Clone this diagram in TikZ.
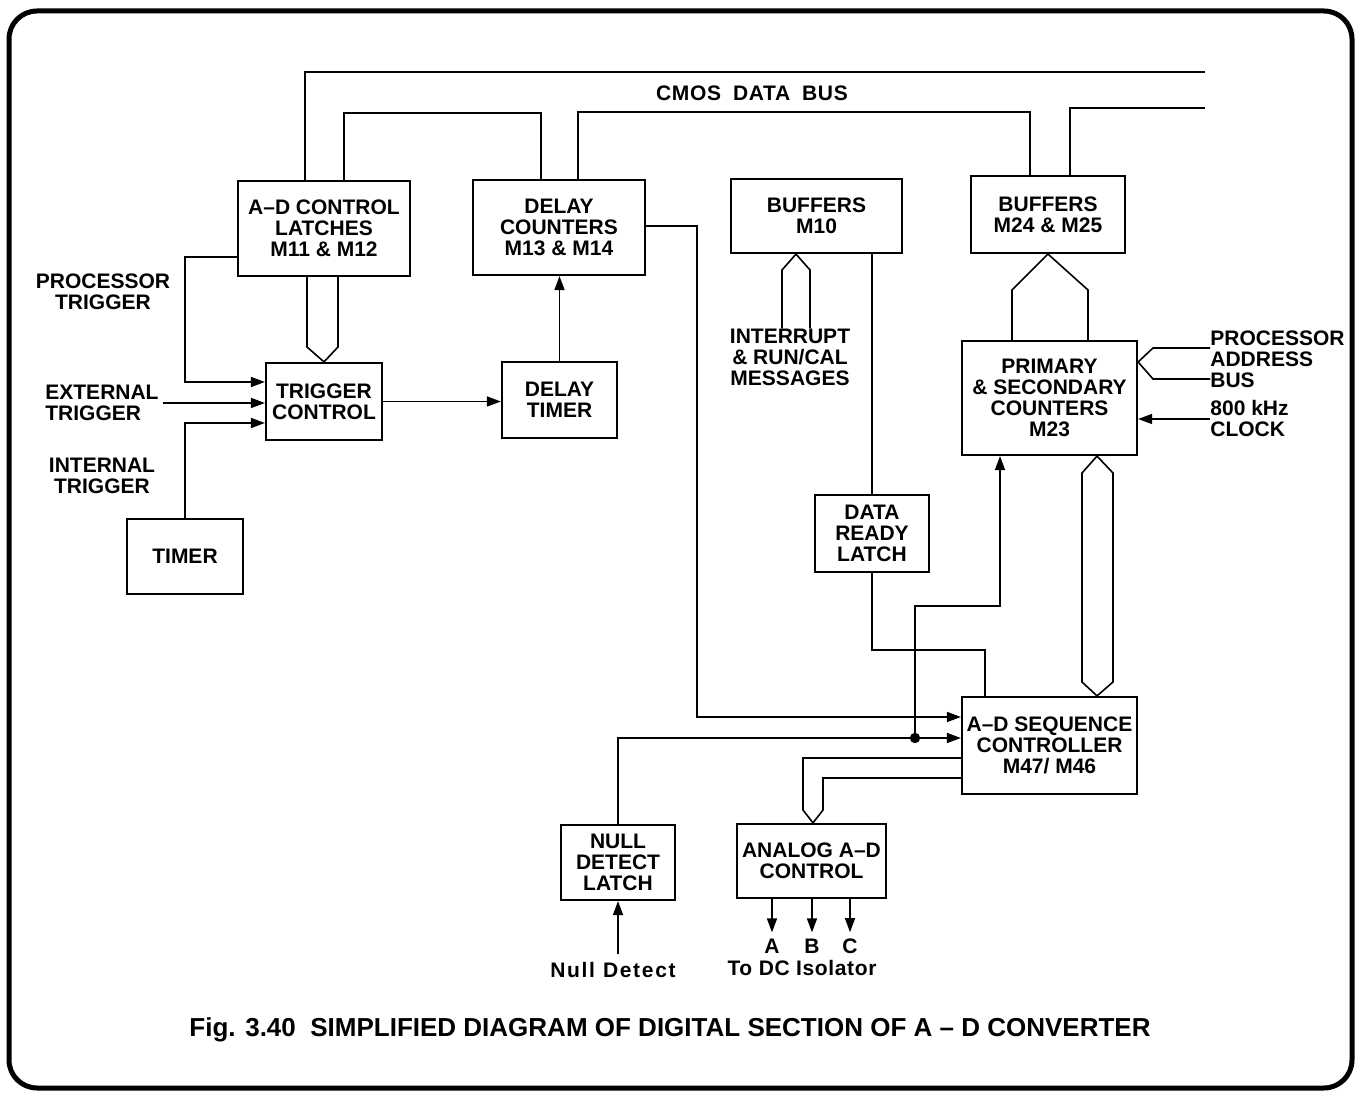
\documentclass[tikz,border=0pt]{standalone}
\usepackage{fontspec}
\setmainfont{Liberation Sans}
\usetikzlibrary{arrows.meta}

\begin{document}
\begin{tikzpicture}[
    x=0.5pt,
    y=-0.5pt,
    font=\fontsize{10.5}{10.5}\selectfont\bfseries,
    blk/.style={draw, line width=1.1pt, align=center, inner sep=0pt},
    lbl/.style={align=center, inner sep=0pt},
    wire/.style={line width=0.8pt},
    >={Triangle[length=7pt,width=5pt]}
]
\useasboundingbox (0,0) rectangle (1361,1095);
\draw[line width=2.5pt, rounded corners=14pt] (9,11) rectangle (1352,1088);

% blocks
\node[blk, minimum width=86pt, minimum height=47.5pt] (latch) at (324,228.5) {A--D CONTROL\\LATCHES\\M11 \& M12};
\node[blk, minimum width=86pt, minimum height=47.5pt] (dcnt) at (559,227.5) {DELAY\\COUNTERS\\M13 \& M14};
\node[blk, minimum width=58pt, minimum height=38.5pt] (trig) at (324,401.5) {TRIGGER\\CONTROL};
\node[blk, minimum width=57.5pt, minimum height=38pt] (dtim) at (559.5,400) {DELAY\\TIMER};
\node[blk, minimum width=58pt, minimum height=37.5pt] (timer) at (185,556.5) {TIMER};
\node[blk, minimum width=85.5pt, minimum height=37pt] (buf10) at (816.5,216) {BUFFERS\\M10};
\node[blk, minimum width=77pt, minimum height=38.5pt] (buf24) at (1048,214.5) {BUFFERS\\M24 \& M25};
\node[blk, minimum width=87.5pt, minimum height=57pt] (cnt) at (1049.5,398) {PRIMARY\\\& SECONDARY\\COUNTERS\\M23};
\node[blk, minimum width=57pt, minimum height=38.5pt] (drl) at (872,533.5) {DATA\\READY\\LATCH};
\node[blk, minimum width=87.5pt, minimum height=48.5pt] (seq) at (1049.5,745.5) {A--D SEQUENCE\\CONTROLLER\\M47/ M46};
\node[blk, minimum width=57pt, minimum height=37.5pt] (nul) at (618,862.5) {NULL\\DETECT\\LATCH};
\node[blk, minimum width=74.5pt, minimum height=37pt] (ana) at (811.5,861) {ANALOG A--D\\CONTROL};

% labels
\node[lbl] (ptrg) at (103,292) {PROCESSOR\\TRIGGER};
\node[lbl, align=left, anchor=west] (ext) at (45,403) {EXTERNAL\\TRIGGER};
\node[lbl] (itrg) at (102,476) {INTERNAL\\TRIGGER};
\node[lbl] (irq) at (790,357) {INTERRUPT\\\& RUN/CAL\\MESSAGES};
\node[lbl, align=left, anchor=west] (pab) at (1210,359) {PROCESSOR\\ADDRESS\\BUS};
\node[lbl, align=left, anchor=west] (clk) at (1210,419) {800 kHz\\CLOCK};
\node[lbl] (cmos) at (752,93) {\addfontfeature{LetterSpace=3}CMOS\hspace{6pt}DATA\hspace{6pt}BUS};
\node[lbl] (la) at (772,946) {A};
\node[lbl] (lb) at (812,946) {B};
\node[lbl] (lc) at (850,946) {C};
\node[lbl] (iso) at (802,968) {\addfontfeature{LetterSpace=3}To DC Isolator};
\node[lbl] (nd) at (613,970) {\addfontfeature{LetterSpace=8}Null\hspace{4pt}Detect};
\node[lbl, font=\fontsize{13}{15}\selectfont\bfseries] (cap) at (670,1030) {Fig. 3.40\ \ SIMPLIFIED DIAGRAM OF DIGITAL SECTION OF A -- D CONVERTER};

% data bus
\coordinate (busA) at (1205,72);
\coordinate (busB) at (1205,108);
\draw[wire] (305,0 |- latch.north) -- (305,72) -- (busA);
\draw[wire] (344,0 |- latch.north) -- (344,113) -- (541,113) -- (541,0 |- dcnt.north);
\draw[wire] (578,0 |- dcnt.north) -- (578,112) -- (1030,112) -- (1030,0 |- buf24.north);
\draw[wire] (1070,0 |- buf24.north) -- (1070,108) -- (busB);

% triggers
\draw[wire, ->] (latch.west |- 0,257) -- (185,257) -- (185,382) -- (trig.west |- 0,382);
\draw[wire, ->] ([xshift=2pt]ext.east) -- (ext.east -| trig.west);
\draw[wire, ->] (timer.north) -- (185,423) -- (trig.west |- 0,423);
\draw[wire] (307,0 |- latch.south) -- (307,347) -- (trig.north) -- (338,347) -- (338,0 |- latch.south);
\draw[wire, ->] (trig.east) -- (trig.east -| dtim.west);
\draw[wire, ->] (dtim.north) -- (dtim.north |- dcnt.south);
\draw[wire, ->] (dcnt.east |- 0,226) -- (697,226) -- (697,717) -- (seq.west |- 0,717);

% buffers and counters
\draw[wire] (782,0 |- irq.north) -- (782,270) -- (796,0 |- buf10.south) -- (810,270) -- (810,0 |- irq.north);
\draw[wire] (drl.north |- buf10.south) -- (drl.north);
\draw[wire] (1012,0 |- cnt.north) -- (1012,290) -- (buf24.south) -- (1088,290) -- (1088,0 |- cnt.north);
\draw[wire] (pab.west |- 0,348) -- (1153,348) -- (cnt.east |- 0,362) -- (1153,379) -- (pab.west |- 0,379);
\draw[wire, ->] (clk.west) -- (clk.west -| cnt.east);
\draw[wire] (1097,0 |- cnt.south) -- (1082,473) -- (1082,682) -- (1097,0 |- seq.north) -- (1113,682) -- (1113,473) -- cycle;

% sequence controller
\draw[wire] (drl.south) -- (drl.south |- 0,650) -- (985,650) -- (985,0 |- seq.north);
\coordinate (jn) at (915,738);
\draw[wire, ->] (nul.north) -- (nul.north |- jn) -- (seq.west |- jn);
\draw[wire, ->] (jn) -- (915,606) -- (1000,606) -- (1000,0 |- cnt.south);
\fill (jn) circle[radius=2.6pt];
\draw[wire] (seq.west |- 0,758) -- (803,758) -- (803,810) -- (813,0 |- ana.north) -- (823,810) -- (823,778) -- (seq.west |- 0,778);
\draw[wire, ->] (nul.south |- nd.north) ++(0,-8) -- (nul.south);

% outputs
\draw[wire, ->] (la |- ana.south) -- ([yshift=3pt]la.north);
\draw[wire, ->] (lb |- ana.south) -- ([yshift=3pt]lb.north);
\draw[wire, ->] (lc |- ana.south) -- ([yshift=3pt]lc.north);
\end{tikzpicture}
\end{document}
